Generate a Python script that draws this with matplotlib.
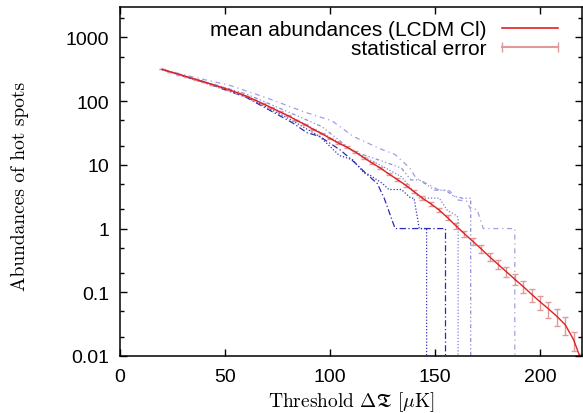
import numpy as np
import matplotlib
matplotlib.use('Agg')
import matplotlib.pyplot as plt
from matplotlib.lines import Line2D

plt.rcParams['font.family'] = ['Liberation Sans', 'DejaVu Sans']
plt.rcParams['mathtext.fontset'] = 'cm'

# mean abundances (LCDM Cl), every 4 uK
thr = np.arange(20, 221, 4)
mean_ab = [316, 288, 263, 240, 219, 200, 182, 166, 151, 135,
           120, 105, 91, 79, 68, 59, 50, 43, 36, 31,
           26, 22, 19, 16, 13, 10.7, 8.9, 7.2, 5.9, 4.8,
           3.8, 3.0, 2.45, 1.95, 1.48, 1.10, 0.83, 0.63, 0.48, 0.36,
           0.275, 0.21, 0.16, 0.123, 0.093, 0.071, 0.055, 0.042, 0.031, 0.018,
           0.008]
# relative statistical error
err_rel = [0.005, 0.005, 0.005, 0.005, 0.005, 0.005, 0.005, 0.005, 0.005, 0.005,
           0.006, 0.008, 0.01, 0.01, 0.012, 0.014, 0.016, 0.018, 0.02, 0.02,
           0.022, 0.025, 0.028, 0.03, 0.035, 0.04, 0.045, 0.05, 0.05, 0.06,
           0.06, 0.07, 0.07, 0.08, 0.09, 0.10, 0.11, 0.12, 0.13, 0.14,
           0.16, 0.17, 0.19, 0.21, 0.23, 0.25, 0.27, 0.29, 0.31, 0.34,
           0.36]

# single realisations
ra_x = [20, 40, 60, 80, 95, 104.5, 110.8, 116.3, 118.7, 125, 128, 134, 138.5, 140, 142.5, 146, 146]
ra_y = [312, 196, 118, 54, 28, 14, 12, 7.4, 7.0, 5.1, 4.1, 4.1, 3.0, 3.0, 1.0, 1.0, 0]
rb_x = [20, 40, 60, 82, 89, 95, 105, 113, 117, 122.5, 125.8, 131, 155, 155]
rb_y = [315, 198, 115, 46, 32, 28, 17, 10, 7.4, 5.1, 3.0, 1.0, 1.0, 0]
rc_x = [20, 40, 60, 80, 95, 105, 111, 125, 134, 142.5, 152, 156, 159, 161, 161]
rc_y = [318, 202, 122, 60, 33, 22, 16.3, 9.5, 6.5, 3.0, 3.0, 1.9, 1.7, 1.5, 0]
rd_x = [20, 40, 60, 80, 96, 111, 125, 134, 138.5, 142.5, 150, 155, 159, 163, 167, 167]
rd_y = [314, 204, 130, 68, 40, 16.3, 11.4, 8.9, 5.8, 5.8, 4.0, 4.0, 3.2, 3.0, 3.0, 0]
re_x = [20, 36, 52, 70, 87, 101, 111, 124, 131, 138, 141, 152, 157, 161, 165, 167, 170, 173, 188, 188]
re_y = [316, 234, 178, 112, 69, 49, 28, 17.8, 14.5, 8.9, 6.2, 4.0, 3.9, 2.8, 2.7, 2.0, 2.0, 1.0, 1.0, 0]

ytick_vals = [0.01, 0.1, 1, 10, 100, 1000]
ytick_labels = ['0.01', '0.1', '1', '10', '100', '1000']


def floor0(y):
    y = np.array(y, dtype=float)
    return np.where(y > 0, y, 1e-5)


fig = plt.figure(figsize=(5.83, 4.14), dpi=100)
ax = fig.add_axes([120 / 583, 57 / 414, 462 / 583, 349 / 414])

ax.plot(ra_x, floor0(ra_y), color='#3535b8', lw=0.9, ls=(0, (1, 1.5)))
ax.plot(rb_x, floor0(rb_y), color='#2a2ab0', lw=0.9, ls=(0, (5, 2, 1, 2)))
ax.plot(rc_x, floor0(rc_y), color='#8080d8', lw=0.9, ls=(0, (1, 1.5)))
ax.plot(rd_x, floor0(rd_y), color='#8c8cdc', lw=0.9, ls=(0, (3, 2, 1, 2, 1, 2)))
ax.plot(re_x, floor0(re_y), color='#a0a0e0', lw=0.9, ls=(0, (4, 3, 1, 3)))

mean_arr = np.array(mean_ab)
ax.errorbar(thr, mean_arr, yerr=mean_arr * np.array(err_rel), fmt='none',
            ecolor='#e09a9a', elinewidth=1.0, capsize=2.5, capthick=1.0)
ax.plot(thr, mean_arr, color='#e02020', lw=1.0)

ax.set_yscale('log')
ax.set_xlim(0, 220)
ax.set_ylim(0.01, 3000)
ax.set_xticks([0, 50, 100, 150, 200])
ax.set_yticks(ytick_vals)
ax.set_yticklabels(ytick_labels)
minors = [m * 10.0 ** e for e in range(-2, 4) for m in (2, 5)]
ax.set_yticks([v for v in minors if v < 3000], minor=True)
ax.yaxis.set_minor_formatter(matplotlib.ticker.NullFormatter())
ax.tick_params(which='both', direction='in', top=True, right=True, labelsize=14)
ax.tick_params(which='major', length=5, width=1)
ax.tick_params(which='minor', length=3, width=1)
ax.tick_params(axis='y', pad=8)
ax.tick_params(axis='x', pad=9)
for s in ax.spines.values():
    s.set_linewidth(1.1)

ax.set_xlabel(r'Threshold $\Delta\mathfrak{T}$ [$\mu$K]', family='cmr10', fontsize=14)
ax.set_ylabel('Abundances of hot spots', family='cmr10', fontsize=14)
ax.xaxis.set_label_coords(0.501, -0.094)
ax.yaxis.set_label_coords(-0.198, 0.49)

handles = [Line2D([], [], color='#e02020', lw=1.2),
           Line2D([], [], color='#e09a9a', lw=1.5, marker='|', markersize=7, markeredgewidth=1.0)]
ax.legend(handles, ['mean abundances (LCDM Cl)', 'statistical error'], loc='upper right',
          bbox_to_anchor=(0.98, 0.987), frameon=False, markerfirst=False, numpoints=2,
          fontsize=15, handlelength=3.3, labelspacing=0.02, borderaxespad=0.0,
          handletextpad=0.45)

fig.savefig('out.png', dpi=100)
